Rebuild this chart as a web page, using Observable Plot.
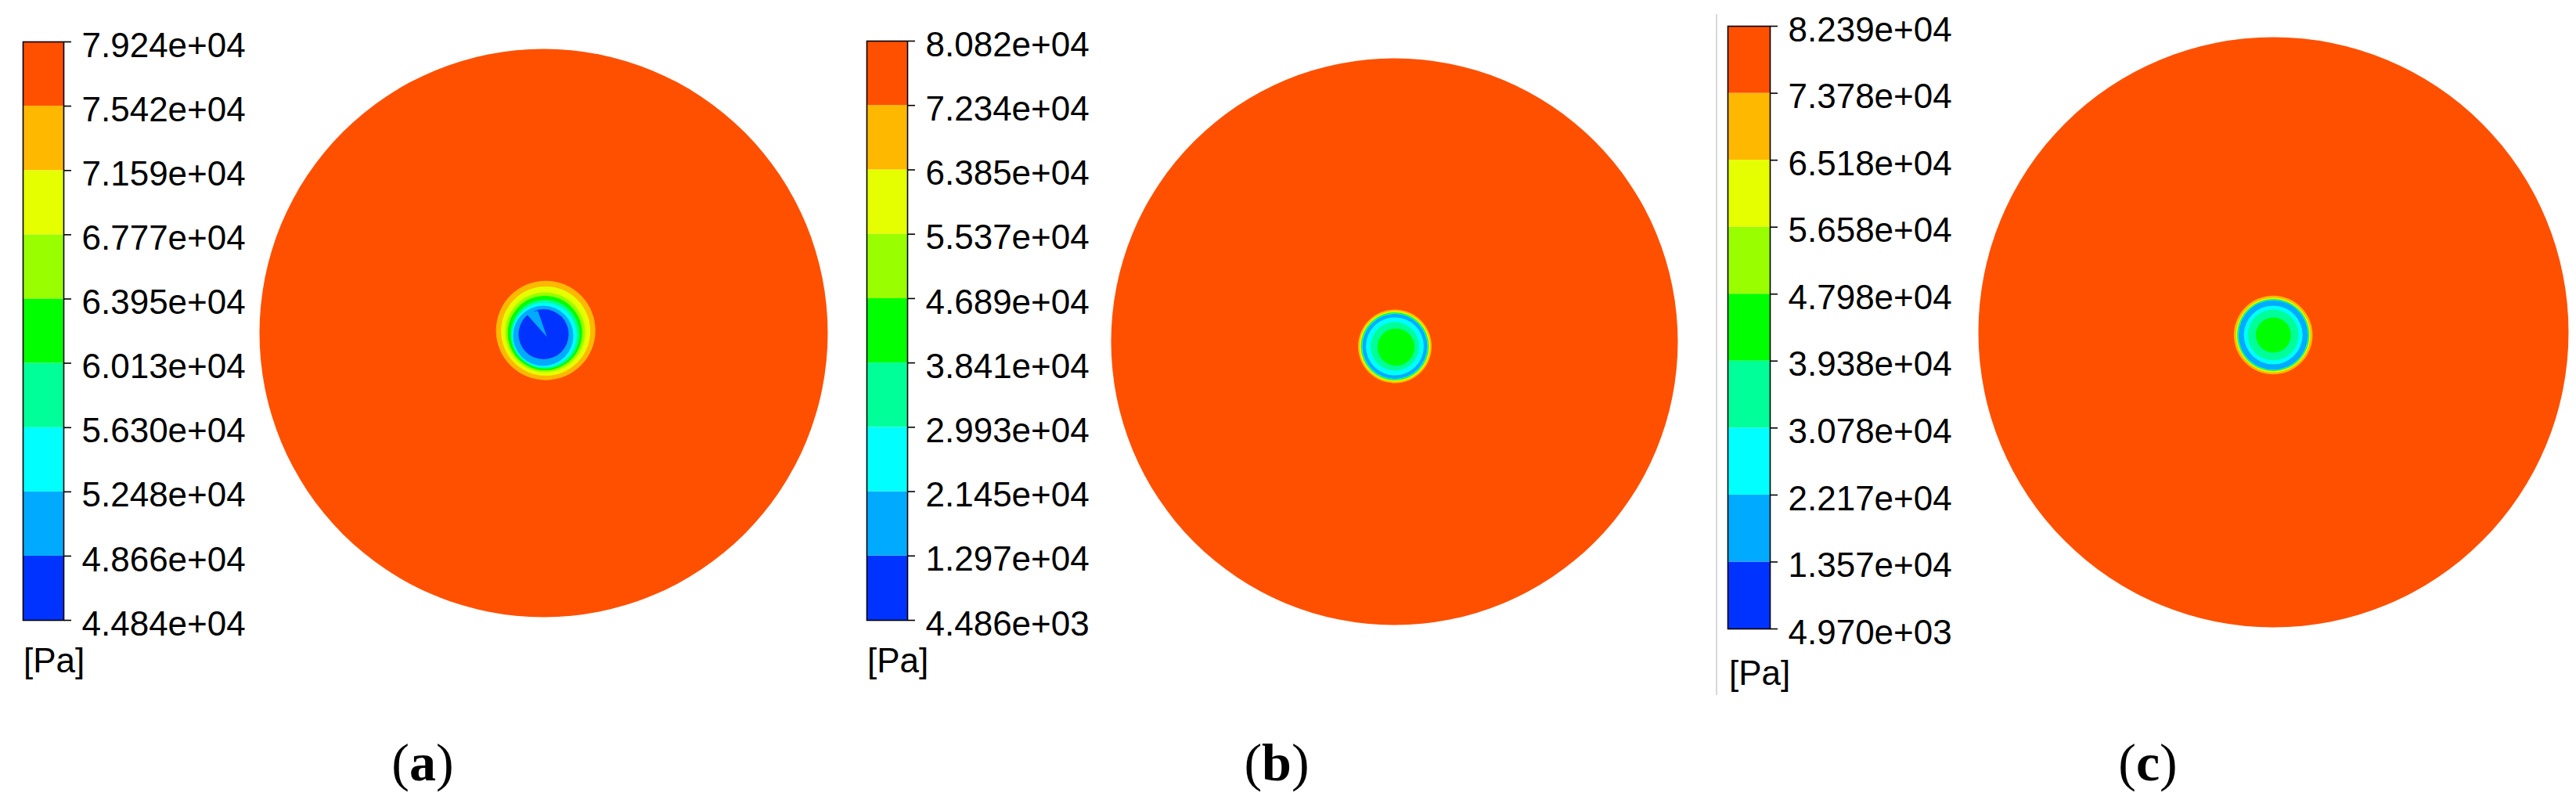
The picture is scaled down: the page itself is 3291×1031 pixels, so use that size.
<!DOCTYPE html>
<html>
<head>
<meta charset="utf-8">
<script src="https://cdn.jsdelivr.net/npm/d3@7"></script>
<script src="https://cdn.jsdelivr.net/npm/@observablehq/plot@0.6"></script>
<style>
html, body { margin: 0; padding: 0; background: #fff; }
#fig { position: relative; width: 3291px; height: 1031px; overflow: hidden; background: #fff; }
.unit { position: absolute; font-family: "Liberation Sans", Arial, sans-serif; font-size: 44px; line-height: 44px; color: #000; white-space: nowrap; }
.cap { position: absolute; font-family: "Liberation Serif", "Times New Roman", serif; font-size: 68px; line-height: 68px; color: #000; white-space: nowrap; transform: translateX(-50%); }
.sep { position: absolute; background: #d9d9d9; }
</style>
</head>
<body>
<div id="fig"></div>
<script>
// ---- colour bands (low -> high) ----
const bandColors = ["#0033ff", "#00aaff", "#00ffff", "#00ff99", "#00ff00", "#99ff00", "#e5ff00", "#ffb800", "#ff5000"];

// ---- colour-bar levels [Pa] ----
const levelsA = [44840, 48660, 52480, 56300, 60130, 63950, 67770, 71590, 75420, 79240];
const levelsB = [4486, 12970, 21450, 29930, 38410, 46890, 55370, 63850, 72340, 80820];
const levelsC = [4970, 13570, 22170, 30780, 39380, 47980, 56580, 65180, 73780, 82390];

// ---- contour rings (radius as fraction of outlet radius, band index, centre offset) ----
const radiusA = [1, 0.1749, 0.1570, 0.1405, 0.1309, 0.1212, 0.1143, 0.1061, 0.0882];
const bandA   = [8, 7, 6, 5, 4, 3, 2, 1, 0];
const offXA   = [0, 0.0074, 0.0074, 0.0055, 0.0047, 0.0050, 0.0028, -0.0014, 0];
const offYA   = [0, 0.0091, 0.0069, 0.0028, 0, -0.0041, -0.0069, -0.0096, -0.0041];
const wedgeXA = [0.0118, -0.0661, -0.0201];
const wedgeYA = [-0.0138, 0.0736, 0.0780];
const wedgeBandA = 1;

const radiusB = [1, 0.1298, 0.1243, 0.1210, 0.1193, 0.1177, 0.1160, 0.1144, 0.1022, 0.0856, 0.0655];
const bandB   = [8, 7, 6, 5, 4, 3, 2, 1, 2, 3, 4];
const offXB   = [0, 0.0014, 0.0014, 0.0014, 0.0014, 0.0014, 0.0014, 0.0014, 0.0014, 0.0014, 0.0055];
const offYB   = [0, -0.0166, -0.0166, -0.0166, -0.0166, -0.0166, -0.0166, -0.0166, -0.0166, -0.0166, -0.0193];

const radiusC = [1, 0.1334, 0.1260, 0.1228, 0.1215, 0.1202, 0.1188, 0.1175, 0.0995, 0.0862, 0.0597];
const bandC   = [8, 7, 6, 5, 4, 3, 2, 1, 2, 3, 4];
const offXC   = [0, -0.0008, -0.0008, -0.0008, -0.0008, -0.0008, -0.0008, -0.0008, -0.0008, -0.0008, -0.0003];
const offYC   = [0, -0.0093, -0.0093, -0.0093, -0.0093, -0.0093, -0.0093, -0.0093, -0.0093, -0.0093, -0.0093];

const unitLabel = "[Pa]";
const captions = ["a", "b", "c"];

// ---- layout (page pixels) ----
const panels = [
  {levels: levelsA, radius: radiusA, band: bandA, offX: offXA, offY: offYA, wedgeX: wedgeXA, wedgeY: wedgeYA, wedgeBand: wedgeBandA,
   bar: {left: 29, right: 81, top: 53, bottom: 792}, disc: {cx: 694, cy: 425, R: 363}, unit: {x: 30, base: 859}, cap: 540},
  {levels: levelsB, radius: radiusB, band: bandB, offX: offXB, offY: offYB,
   bar: {left: 1107, right: 1159, top: 52, bottom: 792}, disc: {cx: 1781, cy: 436, R: 362}, unit: {x: 1108, base: 859}, cap: 1631},
  {levels: levelsC, radius: radiusC, band: bandC, offX: offXC, offY: offYC,
   bar: {left: 2207, right: 2261, top: 33, bottom: 803}, disc: {cx: 2904, cy: 424, R: 377}, unit: {x: 2209, base: 875}, cap: 2744}
];

const fmt = v => {
  const [m, e] = v.toExponential(3).split("e");
  return m + "e" + e[0] + e.slice(1).padStart(2, "0");
};

const fig = document.getElementById("fig");
function place(node, left, top) {
  node.style.position = "absolute";
  node.style.left = left + "px";
  node.style.top = top + "px";
  fig.appendChild(node);
}

panels.forEach((P, k) => {
  const lv = P.levels;
  const mid = i => (lv[i] + lv[i + 1]) / 2;
  const colorScale = {type: "threshold", domain: lv.slice(1, 9), range: bandColors};

  // ---------- colour bar ----------
  const bands = d3.range(9).map(i => ({y1: lv[i], y2: lv[i + 1], p: mid(i)}));
  const mT = 30, mB = 30, mL = 2, mR = 250;
  const bw = P.bar.right - P.bar.left, bh = P.bar.bottom - P.bar.top;
  const bar = Plot.plot({
    width: mL + bw + mR, height: mT + bh + mB,
    marginTop: mT, marginBottom: mB, marginLeft: mL, marginRight: mR,
    x: {domain: [0, 1], axis: null},
    y: {domain: [lv[0], lv[9]], axis: null},
    color: colorScale,
    style: {background: "transparent", overflow: "visible", fontFamily: "'Liberation Sans', Arial, sans-serif", fontSize: "44px", color: "#000"},
    marks: [
      Plot.rect(bands, {x1: () => 0, x2: () => 1, y1: "y1", y2: "y2", fill: "p"}),
      Plot.frame({stroke: "#000", strokeWidth: 1.6}),
      Plot.axisY(lv, {anchor: "right", tickSize: 9, strokeWidth: 1.6, fill: "none", label: null}),
      Plot.text(lv, {y: d => d, text: fmt, frameAnchor: "right", textAnchor: "start", dx: 23, dy: 5, fill: "#000"})
    ]
  });
  place(bar, P.bar.left - mL, P.bar.top - mT);

  // ---------- unit label ----------
  const u = document.createElement("div");
  u.className = "unit";
  u.textContent = unitLabel;
  place(u, P.unit.x, P.unit.base - 37);

  // ---------- pressure contour disc ----------
  const rings = P.radius.map((r, i) => ({r, x: P.offX[i], y: P.offY[i], p: mid(P.band[i])}));
  const m = 2, R = P.disc.R;
  const marks = [Plot.dot(rings, {x: "x", y: "y", r: "r", fill: "p", stroke: "none"})];
  if (P.wedgeX) {
    const wedge = P.wedgeX.map((x, i) => ({x, y: P.wedgeY[i], p: mid(P.wedgeBand)}));
    marks.push(Plot.line(wedge, {x: "x", y: "y", fill: "p", stroke: "none"}));
  }
  const disc = Plot.plot({
    width: 2 * R + 2 * m, height: 2 * R + 2 * m, margin: m,
    x: {domain: [-1, 1], axis: null},
    y: {domain: [-1, 1], axis: null},
    r: {type: "linear", domain: [0, 1], range: [0, R]},
    color: colorScale,
    style: {background: "transparent", overflow: "visible"},
    marks
  });
  place(disc, P.disc.cx - R - m, P.disc.cy - R - m);

  // ---------- caption ----------
  const c = document.createElement("div");
  c.className = "cap";
  c.innerHTML = "(<b>" + captions[k] + "</b>)";
  place(c, P.cap, 997 - 57);
});

// thin separator line left of panel (c)
const sep = document.createElement("div");
sep.className = "sep";
sep.style.width = "2px";
sep.style.height = "870px";
place(sep, 2192, 18);
</script>
</body>
</html>
